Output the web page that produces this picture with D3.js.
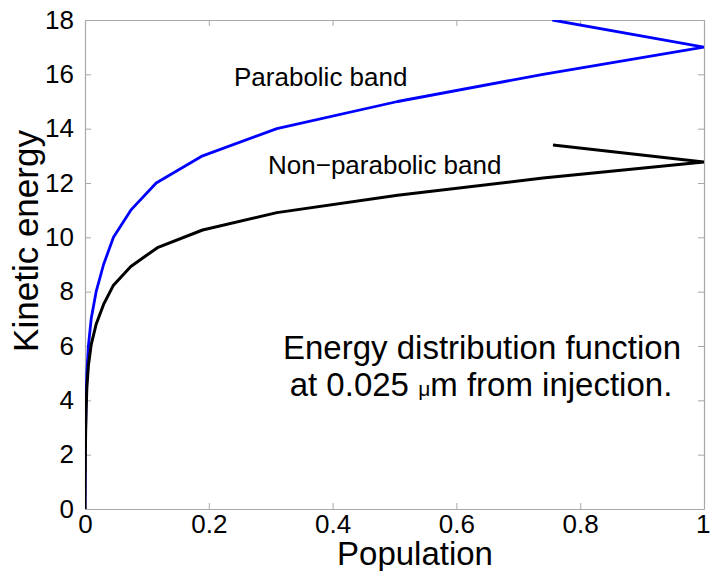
<!DOCTYPE html>
<html>
<head>
<meta charset="utf-8">
<script src="https://cdn.jsdelivr.net/npm/d3@7"></script>
<style>
  html, body { margin: 0; padding: 0; background: #fff; }
  svg { display: block; }
  text { font-family: "Liberation Sans", Arial, Helvetica, sans-serif; fill: #000; }
</style>
</head>
<body>
<svg id="chart" width="710" height="571"></svg>
<script>
// ---- data ----
const parabolicEnergy = [0, 1, 2, 3, 4, 5, 6, 7, 8, 9, 10, 11, 12, 13, 14, 15, 16, 17, 18];
const parabolicPop    = [0, 0.0002, 0.0005, 0.001, 0.0018, 0.003, 0.0055, 0.010, 0.018, 0.030, 0.046, 0.074, 0.115, 0.19, 0.31, 0.505, 0.74, 1.0, 0.755];

const nonParabolicEnergy = [0, 0.98, 1.91, 2.80, 3.65, 4.48, 5.28, 6.05, 6.80, 7.53, 8.24, 8.93, 9.62, 10.27, 10.91, 11.55, 12.18, 12.77, 13.40];
const nonParabolicPop    = [0, 0.0002, 0.0005, 0.001, 0.0018, 0.003, 0.0055, 0.010, 0.018, 0.030, 0.046, 0.074, 0.117, 0.19, 0.31, 0.505, 0.74, 1.0, 0.756];

const xTicks = [0, 0.2, 0.4, 0.6, 0.8, 1];
const xTickLabels = ["0", "0.2", "0.4", "0.6", "0.8", "1"];
const yTicks = [0, 2, 4, 6, 8, 10, 12, 14, 16, 18];
const yTickLabels = ["0", "2", "4", "6", "8", "10", "12", "14", "16", "18"];

const xLabel = "Population";
const yLabel = "Kinetic energy";
const parabolicLabel = "Parabolic band";
const nonParabolicLabel = "Non\u2212parabolic band";
const noteLine1 = "Energy distribution function";
const noteLine2a = "at 0.025 ";
const noteMu = "\u03bc";
const noteLine2b = "m from injection.";

// ---- layout ----
const svg = d3.select("#chart");
const mLeft = 85, mRight = 704, mTop = 20, mBottom = 509;

const x = d3.scaleLinear().domain([0, 1]).range([mLeft, mRight]);
const y = d3.scaleLinear().domain([0, 18]).range([mBottom, mTop]);

const boxColor = "#a8a8a8";

svg.append("defs").append("clipPath").attr("id", "plotclip")
  .append("rect").attr("x", mLeft).attr("y", mTop).attr("width", mRight - mLeft).attr("height", mBottom - mTop);

function styleAxis(g) {
  g.selectAll(".domain").attr("stroke", boxColor).attr("stroke-width", 1.2);
  g.selectAll(".tick line").attr("stroke", boxColor).attr("stroke-width", 1);
}

const gx = svg.append("g").attr("transform", `translate(0,${mBottom})`)
  .call(d3.axisBottom(x).tickValues(xTicks).tickFormat((d, i) => xTickLabels[i]).tickSizeInner(-6).tickSizeOuter(0).tickPadding(4));
styleAxis(gx);
gx.selectAll(".tick text").attr("font-size", 26).attr("fill", "#000").attr("dy", "0.76em")
  .attr("font-family", "Liberation Sans, Arial, sans-serif");
// keep the last label ("1") inside the page edge
gx.selectAll(".tick text").filter((d, i) => i === xTicks.length - 1)
  .attr("text-anchor", "end").attr("x", 6);

const gxTop = svg.append("g").attr("transform", `translate(0,${mTop})`)
  .call(d3.axisTop(x).tickValues(xTicks).tickFormat("").tickSizeInner(-6).tickSizeOuter(0));
styleAxis(gxTop);

const gy = svg.append("g").attr("transform", `translate(${mLeft},0)`)
  .call(d3.axisLeft(y).tickValues(yTicks).tickFormat((d, i) => yTickLabels[i]).tickSizeInner(-6).tickSizeOuter(0).tickPadding(11));
styleAxis(gy);
gy.selectAll(".tick text").attr("font-size", 26).attr("fill", "#000")
  .attr("font-family", "Liberation Sans, Arial, sans-serif");

const gyRight = svg.append("g").attr("transform", `translate(${mRight},0)`)
  .call(d3.axisRight(y).tickValues(yTicks).tickFormat("").tickSizeInner(-6).tickSizeOuter(0));
styleAxis(gyRight);

const plot = svg.append("g").attr("clip-path", "url(#plotclip)");

const blueData = parabolicEnergy.map((e, i) => ({ p: parabolicPop[i], e }));
const blackData = nonParabolicEnergy.map((e, i) => ({ p: nonParabolicPop[i], e }));

const line = d3.line().x(d => x(d.p)).y(d => y(d.e));

plot.append("path").datum(blueData)
  .attr("d", line).attr("fill", "none").attr("stroke", "#0000ff")
  .attr("stroke-width", 2.8).attr("stroke-linejoin", "round");

plot.append("path").datum(blackData)
  .attr("d", line).attr("fill", "none").attr("stroke", "#000")
  .attr("stroke-width", 3).attr("stroke-linejoin", "round");

svg.append("text").attr("x", 415).attr("y", 565).attr("text-anchor", "middle")
  .attr("font-size", 33).text(xLabel);

svg.append("text").attr("transform", "translate(38,241) rotate(-90)").attr("text-anchor", "middle")
  .attr("font-size", 35).text(yLabel);

svg.append("text").attr("x", 234).attr("y", 86).attr("font-size", 26).text(parabolicLabel);
svg.append("text").attr("x", 268).attr("y", 174).attr("font-size", 26).text(nonParabolicLabel);

svg.append("text").attr("x", 482).attr("y", 359).attr("text-anchor", "middle")
  .attr("font-size", 33).text(noteLine1);
const t2 = svg.append("text").attr("x", 481).attr("y", 396).attr("text-anchor", "middle")
  .attr("font-size", 33);
t2.append("tspan").text(noteLine2a);
t2.append("tspan").attr("font-size", 21).text(noteMu);
t2.append("tspan").text(noteLine2b);
</script>
</body>
</html>
